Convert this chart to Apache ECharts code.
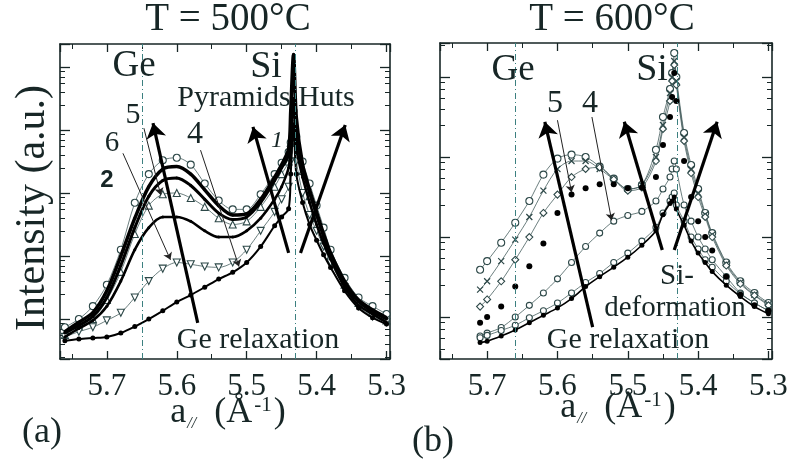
<!DOCTYPE html>
<html>
<head>
<meta charset="utf-8">
<script src="https://cdn.jsdelivr.net/npm/echarts@6/dist/echarts.min.js"></script>
<style>
html, body { margin: 0; padding: 0; background: #fff; }
#chart-box { width: 791px; height: 462px; }
</style>
</head>
<body>
<div id="chart-box"></div>
<script>
// a// grid (1/Å), T = 500°C
var xs500 = [5.76, 5.74, 5.72, 5.70, 5.68, 5.66, 5.64, 5.62, 5.60, 5.58, 5.56, 5.54, 5.52, 5.50, 5.48,
  5.46, 5.45, 5.44, 5.437, 5.433, 5.429, 5.42, 5.41, 5.40, 5.39, 5.38, 5.36, 5.34, 5.32, 5.30];
// intensities (a.u.), panel (a)
var t500_circles2 = [7.4, 10, 16, 35, 126, 700, 1995, 3311, 3631, 2818, 1413, 759, 550, 550, 955,
  1995, 3020, 4467, 6310, 19953, 7943, 3162, 1413, 631, 282, 126, 45, 22, 16, 12];
var t500_thickA = [6.3, 8.9, 12.6, 28, 100, 398, 1259, 2399, 2630, 1995, 1122, 631, 447, 468, 794,
  1778, 2818, 5012, 19953, 158489, 15849, 2818, 1122, 501, 224, 112, 40, 20, 14, 10.5];
var t500_thickB = [6.0, 7.9, 11, 22, 71, 282, 891, 1585, 1738, 1318, 794, 479, 380, 417, 708,
  1585, 2512, 3981, 7943, 31623, 7943, 2512, 1000, 447, 200, 100, 35, 19, 13, 10];
var t500_triangles5 = [5.6, 7.6, 10, 20, 56, 224, 631, 955, 1000, 832, 603, 398, 316, 355, 603,
  1259, 1995, 3162, 6310, 15849, 6310, 2239, 891, 398, 200, 100, 35, 18, 12.6, 9.5];
var t500_black = [5.2, 7.1, 9.5, 16, 40, 126, 282, 417, 417, 355, 251, 200, 200, 251, 398,
  794, 1259, 2512, 5012, 12589, 5012, 1778, 708, 316, 158, 89, 32, 16.6, 12, 8.9];
var t500_curve6 = [5.2, 6.3, 7.4, 9.5, 12.6, 22, 40, 63, 79, 74, 68, 66, 79, 126, 251,
  501, 794, 1259, 3162, 7943, 3162, 1000, 447, 251, 141, 79, 32, 16, 11, 8.9];
var t500_curve1 = [4.5, 4.8, 5.0, 5.2, 6.0, 7.6, 10, 13.5, 18.6, 24, 32, 43, 55, 79, 141,
  302, 417, 562, 1995, 11220, 1995, 708, 316, 178, 105, 66, 28, 15, 10.5, 8.3];

// a// grid, T = 600°C
var xs600 = [5.71, 5.70, 5.68, 5.66, 5.64, 5.62, 5.60, 5.58, 5.56, 5.54, 5.52, 5.50, 5.48, 5.46,
  5.45, 5.44, 5.437, 5.434, 5.431, 5.42, 5.41, 5.40, 5.39, 5.38, 5.36, 5.34, 5.32, 5.30];
var t600_ringCross = [39, 50, 85, 151, 282, 603, 955, 1072, 1000, 759, 537, 398, 447, 1230,
  3162, 7079, 11220, 19953, 10000, 1995, 794, 398, 200, 112, 48, 28, 20, 15];
var t600_crosses = [22, 28, 50, 93, 178, 380, 708, 891, 891, 708, 525, 398, 447, 1000,
  2512, 6310, 10000, 15849, 8913, 1778, 708, 355, 191, 107, 46, 27, 19, 14.5];
var t600_diamonds = [13.5, 16.6, 28, 52, 100, 200, 339, 562, 708, 741, 525, 380, 417, 891,
  2239, 5012, 8913, 14125, 7943, 1585, 631, 316, 178, 100, 44, 26, 18.6, 14];
var t600_dots5 = [8.5, 10, 13.5, 24, 43, 83, 200, 339, 407, 457, 457, 407, 417, 562,
  1413, 3162, 5623, 11220, 5012, 891, 316, 158, 100, 68, 32, 19, 14, 12];
var t600_circles4 = [5.8, 6.3, 7.4, 10, 14, 20, 30, 48, 76, 112, 158, 186, 209, 282,
  398, 562, 708, 891, 708, 251, 158, 100, 71, 52, 32, 20, 15, 12];
var t600_bottomDots = [4.8, 5.0, 5.8, 6.9, 8.5, 10.5, 13, 17, 24, 32, 42, 56, 79, 120,
  190, 263, 282, 316, 224, 141, 89, 63, 48, 37, 25, 18, 13.5, 11];
var t600_bottomRings = [5.5, 5.9, 6.8, 7.9, 9.8, 12, 15, 20, 27, 35, 48, 63, 89, 132,
  200, 282, 316, 355, 251, 158, 100, 71, 52, 42, 28, 19.5, 15, 12];

// reference lattice lines (Ge, Si)
var guides500 = [5.651, 5.433];
var guides600 = [5.658, 5.434];

// thick arrows [a_from, I_from, a_to, I_to]
var arrows500 = [[5.570, 8.7, 5.634, 12900], [5.440, 112, 5.491, 11200], [5.423, 112, 5.359, 12000]];
var arrows600 = [[5.550, 7.5, 5.618, 2754], [5.451, 69, 5.505, 2754], [5.434, 69, 5.373, 2754]];
// thin leader lines from the curve numbers
var leaders500 = [[5.677, 4270, 5.609, 87], [5.647, 10700, 5.623, 933], [5.566, 4790, 5.511, 68]];
var leaders600 = [[5.600, 2884, 5.580, 363], [5.551, 3162, 5.523, 162]];

var myChart = echarts.init(document.getElementById('chart-box'));

var serif = 'Liberation Serif';
var ink = '#172626';
var mk = '#2d4848';

function pairs(xs, ys) {
  return xs.map(function (x, i) { return [x, ys[i]]; });
}

function xAxisOf(grid, pos, showLabel) {
  return {
    type: 'value', gridIndex: grid, position: pos, inverse: true,
    min: 5.295, max: 5.767, splitNumber: 5,
    axisLine: { show: true, onZero: false, lineStyle: { color: ink, width: 1.6 } },
    axisTick: { inside: true, length: 8, lineStyle: { color: ink, width: 1.3 } },
    minorTick: { show: true, splitNumber: 2, length: 5, lineStyle: { color: ink, width: 1 } },
    splitLine: { show: false },
    axisLabel: {
      show: showLabel, showMinLabel: false, showMaxLabel: false, margin: 12,
      fontFamily: serif, fontSize: 31, color: ink,
      formatter: function (v) { return v.toFixed(1); }
    }
  };
}

function yAxisOf(grid, pos, min, max) {
  return {
    type: 'log', logBase: 10, gridIndex: grid, position: pos, min: min, max: max,
    axisLine: { show: true, onZero: false, lineStyle: { color: ink, width: 1.6 } },
    axisTick: { inside: true, length: 10, lineStyle: { color: ink, width: 1.3 } },
    minorTick: { show: true, splitNumber: 6, length: 5, lineStyle: { color: ink, width: 1 } },
    splitLine: { show: false },
    axisLabel: { show: false }
  };
}

function openSeries(grid, xs, ys, symbol, size, rotate) {
  return {
    type: 'line', xAxisIndex: grid * 2, yAxisIndex: grid * 2,
    data: pairs(xs, ys), smooth: 0.3, symbol: symbol, symbolSize: size, symbolRotate: rotate || 0,
    lineStyle: { color: mk, width: 0.7 },
    itemStyle: { color: '#fff', borderColor: mk, borderWidth: 1.1 },
    z: 3
  };
}

function blackSeries(grid, xs, ys, width, size) {
  return {
    type: 'line', xAxisIndex: grid * 2, yAxisIndex: grid * 2,
    data: pairs(xs, ys), smooth: 0.3, symbol: 'circle', symbolSize: size,
    lineStyle: { color: '#000', width: width },
    itemStyle: { color: '#000', borderColor: '#000', borderWidth: 0 },
    z: 4
  };
}

function marks(guides, arrows, leaders) {
  var data = guides.map(function (g) { return { xAxis: g }; });
  arrows.forEach(function (a) {
    data.push([
      { coord: [a[0], a[1]], symbol: 'none', lineStyle: { color: '#000', width: 3.2, type: 'solid' } },
      { coord: [a[2], a[3]], symbol: 'arrow', symbolSize: 15 }
    ]);
  });
  leaders.forEach(function (a) {
    data.push([
      { coord: [a[0], a[1]], symbol: 'none', lineStyle: { color: '#222', width: 1, type: 'solid' } },
      { coord: [a[2], a[3]], symbol: 'arrow', symbolSize: 7 }
    ]);
  });
  return {
    silent: true, symbol: 'none', label: { show: false }, animation: false,
    lineStyle: { color: '#3c8080', width: 1, type: [6, 3, 1, 3] },
    emphasis: { disabled: true },
    data: data
  };
}

function txt(text, x, y, size, extra) {
  var style = {
    text: text, fontFamily: serif, fontSize: size, fill: ink,
    align: 'center', verticalAlign: 'middle'
  };
  for (var k in (extra || {})) style[k] = extra[k];
  return { type: 'text', x: x, y: y, z: 100, style: style };
}

function xName(x, y) {
  return {
    type: 'text', x: x, y: y, z: 100,
    style: {
      text: '{a|a}{s|//}{a|  (Å}{p|-1}{a|)}', align: 'center', verticalAlign: 'middle', fill: ink,
      rich: {
        a: { fontFamily: serif, fontSize: 36, fill: ink },
        s: { fontFamily: serif, fontSize: 16, fontStyle: 'italic', fill: ink, verticalAlign: 'bottom', padding: [16, 0, 0, 1] },
        p: { fontFamily: serif, fontSize: 21, fill: ink, verticalAlign: 'top', padding: [0, 2, 16, 2] }
      }
    }
  };
}

var s500 = [
  openSeries(0, xs500, t500_circles2, 'circle', 7),
  blackSeries(0, xs500, t500_thickA, 3.5, 3),
  blackSeries(0, xs500, t500_thickB, 3, 3),
  openSeries(0, xs500, t500_triangles5, 'triangle', 7),
  blackSeries(0, xs500, t500_black, 2.6, 3),
  openSeries(0, xs500, t500_curve6, 'triangle', 7, 180),
  blackSeries(0, xs500, t500_curve1, 2, 5)
];
s500[s500.length - 1].markLine = marks(guides500, arrows500, leaders500);

var s600 = [
  openSeries(1, xs600, t600_ringCross, 'circle', 7),
  openSeries(1, xs600, t600_crosses, 'path://M0,0L10,10M10,0L0,10', 6),
  openSeries(1, xs600, t600_diamonds, 'diamond', 7),
  blackSeries(1, xs600, t600_dots5, 0, 6),
  openSeries(1, xs600, t600_circles4, 'circle', 6),
  openSeries(1, xs600, t600_bottomRings, 'circle', 6),
  blackSeries(1, xs600, t600_bottomDots, 1.6, 5)
];
s600[1].itemStyle = { color: 'transparent', borderColor: mk, borderWidth: 1.2 };
s600[s600.length - 1].markLine = marks(guides600, arrows600, leaders600);

var option = {
  backgroundColor: '#fff',
  animation: false,
  grid: [
    { left: 60, top: 44, width: 330, height: 315 },
    { left: 440, top: 43, width: 332, height: 316 }
  ],
  xAxis: [
    xAxisOf(0, 'bottom', true), xAxisOf(0, 'top', false),
    xAxisOf(1, 'bottom', true), xAxisOf(1, 'top', false)
  ],
  yAxis: [
    yAxisOf(0, 'left', 2.32, 231700), yAxisOf(0, 'right', 2.32, 231700),
    yAxisOf(1, 'left', 2.99, 26600), yAxisOf(1, 'right', 2.99, 26600)
  ],
  series: s500.concat(s600),
  graphic: [
    txt('T = 500°C', 228, 20, 39),
    txt('T = 600°C', 612, 20, 39),
    { type: 'text', x: 33, y: 208, rotation: Math.PI / 2, z: 100,
      style: { text: 'Intensity (a.u.)', fontFamily: serif, fontSize: 42, fill: ink, align: 'center', verticalAlign: 'middle' } },
    xName(228, 413),
    xName(618, 408),
    txt('(a)', 42, 433, 36),
    txt('(b)', 433, 442, 36),
    // panel (a)
    txt('Ge', 134, 66, 37),
    txt('Si', 266, 67, 38),
    txt('Pyramids Huts', 266, 98, 30),
    txt('5', 133, 115, 30),
    txt('6', 112, 143, 29),
    txt('2', 107, 180, 24, { fontWeight: 'bold', fontFamily: 'Liberation Sans' }),
    txt('4', 195, 135, 32),
    txt('1', 277, 141, 24, { fontStyle: 'italic' }),
    txt('Ge relaxation', 258, 340, 30),
    // panel (b)
    txt('Ge', 513, 70, 37),
    txt('Si', 652, 70, 38),
    txt('5', 555, 104, 32),
    txt('4', 590, 104, 32),
    txt('Si-', 677, 276, 29),
    txt('deformation', 675, 308, 29),
    txt('Ge relaxation', 628, 340, 30)
  ]
};

myChart.setOption(option);
</script>
</body>
</html>
